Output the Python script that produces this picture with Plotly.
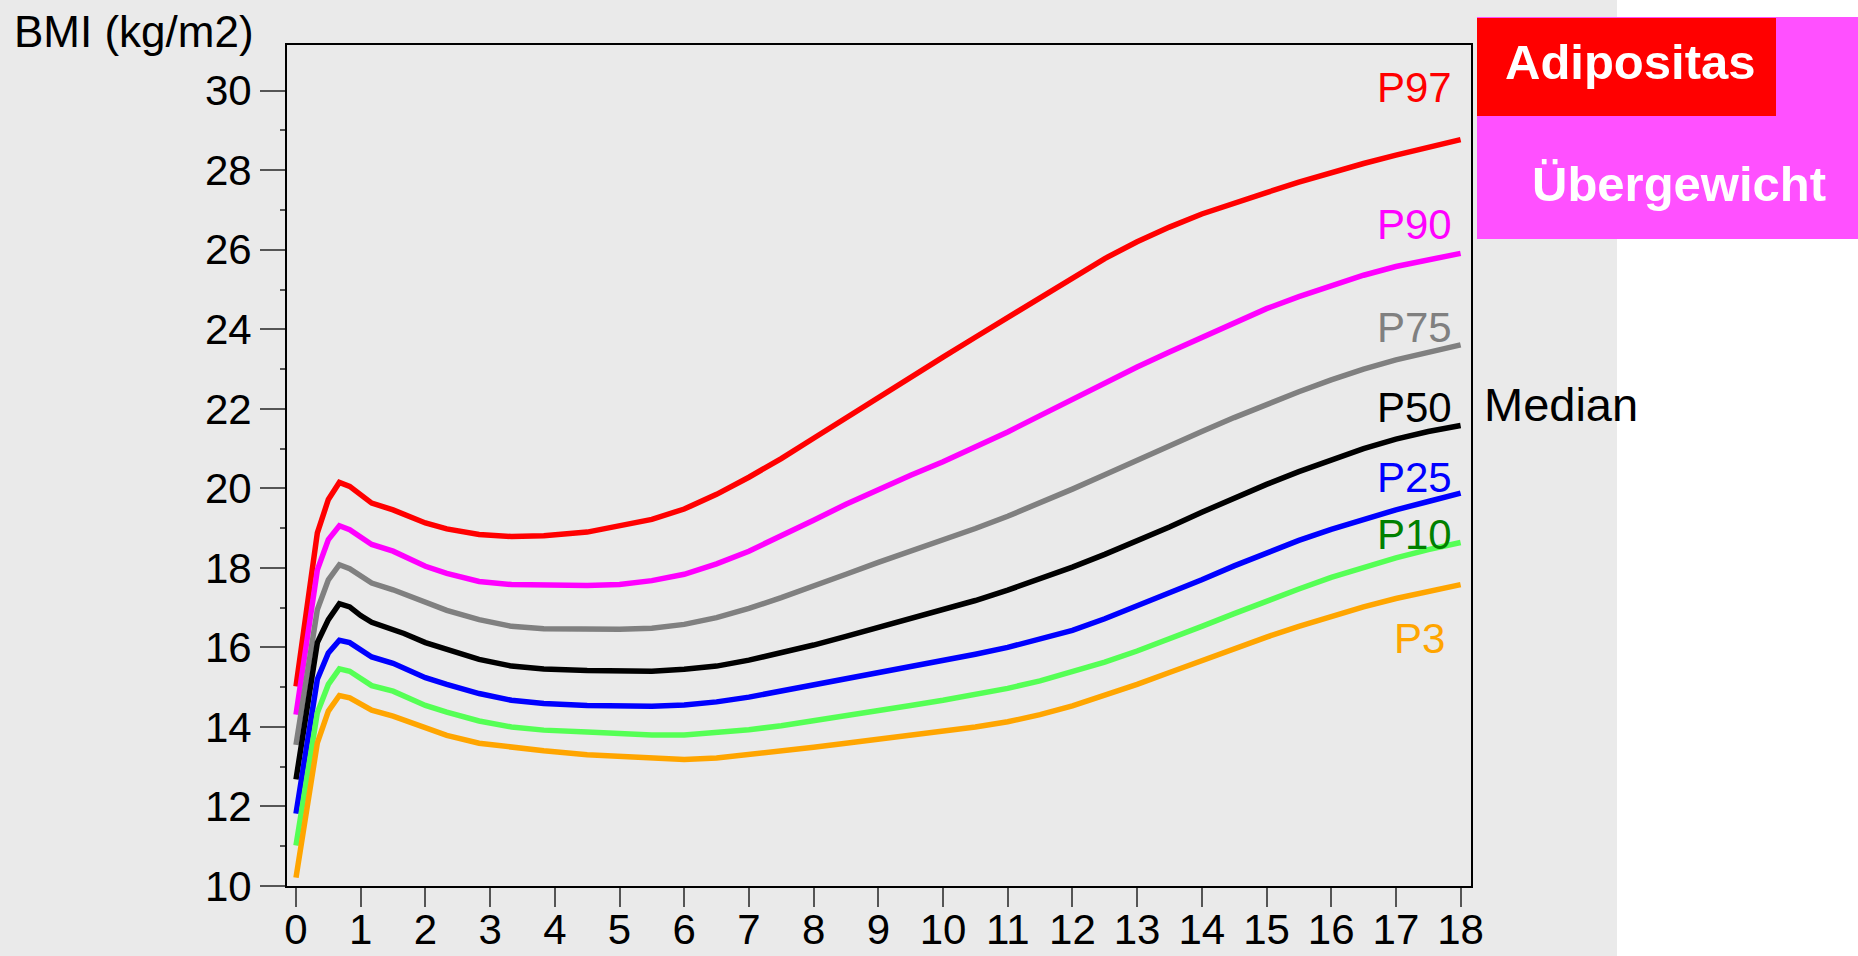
import plotly.graph_objects as go

# Canvas and plot-frame geometry (pixels)
W, H = 1858, 956
L, R, T, B = 287, 1471, 45, 886

FONT = "Liberation Sans, Arial, sans-serif"

# Age in years
age = [0, 0.33, 0.5, 0.67, 0.83, 1.0, 1.17, 1.5, 1.67, 2.0, 2.33, 2.83, 3.33, 3.83, 4.5,
       5, 5.5, 6, 6.5, 7, 7.5, 8, 8.5, 9, 9.5, 10, 10.5, 11, 11.5, 12, 12.5, 13, 13.5,
       14, 14.5, 15, 15.5, 16, 16.5, 17, 17.5, 18]

# BMI percentiles (kg/m2)
p97 = [15.02, 18.88, 19.72, 20.15, 20.05, 19.84, 19.63, 19.46, 19.36, 19.13, 18.98, 18.84, 18.79, 18.81, 18.90,
       19.05, 19.22, 19.48, 19.85, 20.28, 20.75, 21.26, 21.78, 22.30, 22.80, 23.30, 23.80, 24.30, 24.82, 25.32,
       25.78, 26.20, 26.57, 26.90, 27.18, 27.44, 27.70, 27.94, 28.17, 28.38, 28.58, 28.77]
p90 = [14.31, 17.95, 18.71, 19.06, 18.96, 18.78, 18.59, 18.42, 18.29, 18.04, 17.86, 17.66, 17.58, 17.56, 17.56,
       17.58, 17.68, 17.84, 18.10, 18.42, 18.80, 19.20, 19.60, 19.98, 20.33, 20.67, 21.03, 21.42, 21.83, 22.24,
       22.66, 23.05, 23.43, 23.80, 24.17, 24.52, 24.82, 25.10, 25.36, 25.58, 25.76, 25.91]
p75 = [13.55, 16.95, 17.70, 18.08, 17.98, 17.79, 17.62, 17.45, 17.35, 17.12, 16.93, 16.70, 16.53, 16.47, 16.45,
       16.46, 16.48, 16.58, 16.75, 16.98, 17.25, 17.53, 17.84, 18.14, 18.42, 18.70, 18.99, 19.30, 19.63, 19.98,
       20.34, 20.71, 21.08, 21.43, 21.78, 22.12, 22.43, 22.73, 23.00, 23.23, 23.43, 23.61]
p50 = [12.68, 16.12, 16.70, 17.10, 17.02, 16.80, 16.63, 16.45, 16.35, 16.12, 15.95, 15.70, 15.53, 15.46, 15.42,
       15.40, 15.40, 15.45, 15.53, 15.68, 15.86, 16.06, 16.28, 16.50, 16.72, 16.94, 17.18, 17.44, 17.72, 18.02,
       18.34, 18.68, 19.03, 19.40, 19.76, 20.10, 20.42, 20.72, 21.00, 21.24, 21.43, 21.58]
p25 = [11.82, 15.20, 15.86, 16.18, 16.12, 15.95, 15.76, 15.60, 15.49, 15.24, 15.07, 14.84, 14.67, 14.59, 14.54,
       14.52, 14.52, 14.55, 14.63, 14.75, 14.90, 15.06, 15.22, 15.37, 15.52, 15.67, 15.83, 16.00, 16.20, 16.43,
       16.72, 17.04, 17.36, 17.70, 18.05, 18.38, 18.69, 18.97, 19.23, 19.46, 19.67, 19.88]
p10 = [11.02, 14.36, 15.07, 15.46, 15.40, 15.21, 15.04, 14.90, 14.79, 14.54, 14.37, 14.15, 14.00, 13.92, 13.87,
       13.83, 13.80, 13.80, 13.85, 13.93, 14.03, 14.15, 14.28, 14.41, 14.54, 14.67, 14.81, 14.97, 15.16, 15.38,
       15.63, 15.91, 16.21, 16.53, 16.85, 17.17, 17.47, 17.76, 18.02, 18.25, 18.46, 18.64]
p3 = [10.21, 13.60, 14.40, 14.79, 14.73, 14.57, 14.42, 14.27, 14.17, 13.95, 13.79, 13.59, 13.48, 13.40, 13.30,
      13.25, 13.20, 13.18, 13.22, 13.30, 13.39, 13.49, 13.59, 13.69, 13.79, 13.89, 14.00, 14.13, 14.31, 14.53,
      14.79, 15.07, 15.37, 15.67, 15.97, 16.26, 16.53, 16.79, 17.02, 17.23, 17.41, 17.58]

series = [
    ("P97", p97, "#ff0000", "#ff0000", 30.07),
    ("P90", p90, "#ff00ff", "#ff00ff", 26.63),
    ("P75", p75, "#808080", "#808080", 24.04),
    ("P50", p50, "#000000", "#000000", 22.03),
    ("P25", p25, "#0000ff", "#0000ff", 20.27),
    ("P10", p10, "#55ff55", "#008000", 18.84),
    ("P3", p3, "#ffa500", "#ffa500", 16.22),
]

x_ticks = list(range(0, 19))
y_ticks = list(range(10, 31, 2))
y_minor = list(range(11, 30, 2))


def px(xp):
    return (xp - L) / (R - L)


def py(yp):
    return (B - yp) / (B - T)


fig = go.Figure()
for name, vals, col, _, _ in series:
    fig.add_trace(go.Scatter(x=age, y=vals, mode="lines", name=name,
                             line=dict(color=col, width=5.5), hoverinfo="skip"))

ann = []
for name, _, _, tcol, ylab in series:
    ann.append(dict(text=name, xref="paper", yref="y",
                    x=px(1447 if name == "P3" else 1454), y=ylab,
                    xanchor="right", yanchor="middle", showarrow=False,
                    font=dict(family=FONT, size=42, color=tcol)))

ann += [
    dict(text="Median", xref="paper", yref="paper", x=px(1482), y=py(404),
         xanchor="left", yanchor="middle", showarrow=False,
         font=dict(family=FONT, size=47, color="black")),
    dict(text="BMI (kg/m2)", xref="paper", yref="paper", x=px(12), y=py(32),
         xanchor="left", yanchor="middle", showarrow=False,
         font=dict(family=FONT, size=44, color="black")),
    dict(text="<b>Adipositas</b>", xref="paper", yref="paper", x=px(1630), y=py(62),
         xanchor="center", yanchor="middle", showarrow=False,
         font=dict(family=FONT, size=49, color="white")),
    dict(text="<b>Übergewicht</b>", xref="paper", yref="paper", x=px(1679), y=py(184),
         xanchor="center", yanchor="middle", showarrow=False,
         font=dict(family=FONT, size=49, color="white")),
]

shapes = [
    # grey canvas behind the chart, white strip on the far right
    dict(type="rect", xref="paper", yref="paper", layer="below",
         x0=px(-5), x1=px(1617), y0=py(H + 5), y1=py(-5),
         fillcolor="#eaeaea", line=dict(width=0)),
    dict(type="rect", xref="paper", yref="paper",
         x0=px(1477), x1=px(W + 5), y0=py(239), y1=py(17),
         fillcolor="#ff50ff", line=dict(width=0)),
    dict(type="rect", xref="paper", yref="paper",
         x0=px(1477), x1=px(1776), y0=py(116), y1=py(18),
         fillcolor="#ff0000", line=dict(width=0)),
]

x0 = -(296 - L) / 64.7
x1 = (R - 296) / 64.7

fig.update_layout(
    width=W, height=H, autosize=False,
    margin=dict(l=L, r=W - R, t=T, b=H - B, pad=0),
    paper_bgcolor="white", plot_bgcolor="#eaeaea",
    showlegend=False,
    annotations=ann, shapes=shapes,
    xaxis=dict(range=[x0, x1], tickmode="array", tickvals=x_ticks, automargin=False,
               ticks="outside", ticklen=19, tickwidth=1.5, tickcolor="#555555",
               ticklabelstandoff=-13,
               tickfont=dict(family=FONT, size=42, color="black"),
               showline=True, linecolor="black", linewidth=2, mirror=True,
               showgrid=False, zeroline=False),
    yaxis=dict(range=[10, 31.15], tickmode="array", tickvals=y_ticks, automargin=False,
               ticks="outside", ticklen=25, tickwidth=1.5, tickcolor="#555555",
               tickfont=dict(family=FONT, size=42, color="black"),
               minor=dict(tickmode="array", tickvals=y_minor, ticks="outside",
                          ticklen=5, tickwidth=1.5, tickcolor="#555555", showgrid=False),
               showline=True, linecolor="black", linewidth=2, mirror=True,
               showgrid=False, zeroline=False),
)

fig.write_html("out.html")
